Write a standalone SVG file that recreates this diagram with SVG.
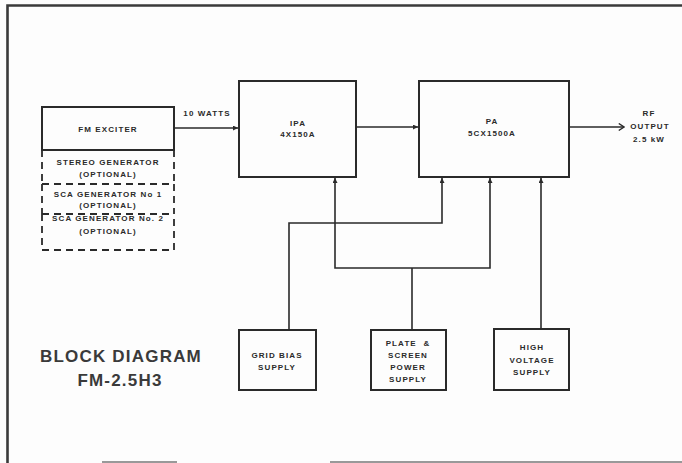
<svg xmlns="http://www.w3.org/2000/svg" width="682" height="463" viewBox="0 0 682 463">
<style>
.box{fill:none;stroke:#2a2a2a;stroke-width:2}
.dash{fill:none;stroke:#2a2a2a;stroke-width:1.8;stroke-dasharray:7,5}
.ln{fill:none;stroke:#2a2a2a;stroke-width:1.6}
.t{font-family:"Liberation Sans",Arial,sans-serif;font-weight:bold;font-size:8px;fill:#2a2a2a;text-anchor:middle;letter-spacing:1.1px}
.big{font-family:"Liberation Sans",Arial,sans-serif;font-weight:bold;font-size:17px;fill:#3a3a3a;text-anchor:middle;letter-spacing:1.2px}
</style>
<defs>
<marker id="ah" viewBox="0 0 8 8" refX="8" refY="4" markerWidth="5" markerHeight="5" orient="auto" markerUnits="userSpaceOnUse">
<path d="M0,0 L8,4 L0,8 Z" fill="#2a2a2a"/>
</marker>
<marker id="oh" viewBox="0 0 8 10" refX="7" refY="5" markerWidth="7" markerHeight="9" orient="auto" markerUnits="userSpaceOnUse">
<path d="M1,1 L7,5 L1,9" fill="none" stroke="#2a2a2a" stroke-width="1.6"/>
</marker>
</defs>
<rect width="682" height="463" fill="#fdfdfd"/>
<g id="frame">
<path d="M7.5,463 V5.5 H682" fill="none" stroke="#3a3a3a" stroke-width="2.6"/>
<line x1="102" y1="462" x2="177" y2="462" stroke="#777" stroke-width="1.5"/>
<line x1="330" y1="462" x2="682" y2="462" stroke="#777" stroke-width="1.5"/>
</g>
<g id="fm-exciter">
<rect class="box" x="42" y="107" width="132" height="43"/>
<text class="t" x="108" y="132">FM EXCITER</text>
</g>
<g id="stereo-generator">
<path class="dash" d="M42,150 V184 M174,150 V184"/>
<text class="t" x="108" y="165">STEREO GENERATOR</text>
<text class="t" x="108" y="177">(OPTIONAL)</text>
</g>
<g id="sca-generator-1">
<path class="dash" d="M42,184 H174 M42,184 V214 M174,184 V214"/>
<text class="t" x="108" y="197">SCA GENERATOR No  1</text>
<text class="t" x="108" y="208">(OPTIONAL)</text>
</g>
<g id="sca-generator-2">
<path class="dash" d="M42,214 H174 M42,214 V250 H174 V214"/>
<text class="t" x="108" y="221">SCA GENERATOR No. 2</text>
<text class="t" x="108" y="234">(OPTIONAL)</text>
</g>
<g id="ipa">
<rect class="box" x="239" y="81" width="117" height="96"/>
<text class="t" x="298" y="126">IPA</text>
<text class="t" x="298" y="137">4X150A</text>
</g>
<g id="pa">
<rect class="box" x="419" y="81" width="150" height="96"/>
<text class="t" x="492" y="124">PA</text>
<text class="t" x="492" y="136">5CX1500A</text>
</g>
<g id="rf-output">
<text class="t" x="649" y="116">RF</text>
<text class="t" x="650" y="129">OUTPUT</text>
<text class="t" x="649" y="142">2.5 kW</text>
</g>
<g id="grid-bias-supply">
<rect class="box" x="239" y="330" width="77" height="60"/>
<text class="t" x="277" y="358">GRID BIAS</text>
<text class="t" x="277" y="370">SUPPLY</text>
</g>
<g id="plate-screen-supply">
<rect class="box" x="371" y="330" width="75" height="60"/>
<text class="t" x="408" y="346" xml:space="preserve">PLATE  &amp;</text>
<text class="t" x="408" y="358">SCREEN</text>
<text class="t" x="408" y="370">POWER</text>
<text class="t" x="408" y="382">SUPPLY</text>
</g>
<g id="high-voltage-supply">
<rect class="box" x="494" y="329" width="75" height="61"/>
<text class="t" x="532" y="350">HIGH</text>
<text class="t" x="532" y="363">VOLTAGE</text>
<text class="t" x="532" y="375">SUPPLY</text>
</g>
<g id="title">
<text class="big" x="121" y="362">BLOCK DIAGRAM</text>
<text class="big" x="120" y="386">FM-2.5H3</text>
</g>
<g id="connectors">
<line class="ln" x1="174" y1="128" x2="238" y2="128" marker-end="url(#ah)"/>
<text class="t" x="207" y="116">10 WATTS</text>
<line class="ln" x1="356" y1="127" x2="418" y2="127" marker-end="url(#ah)"/>
<line class="ln" x1="569" y1="127" x2="624" y2="127" marker-end="url(#oh)"/>
<polyline class="ln" points="289,330 289,223 442,223 442,178" marker-end="url(#ah)"/>
<line class="ln" x1="412" y1="330" x2="412" y2="268"/>
<polyline class="ln" points="412,268 335,268 335,178" marker-end="url(#ah)"/>
<polyline class="ln" points="412,268 490,268 490,178" marker-end="url(#ah)"/>
<line class="ln" x1="541" y1="329" x2="541" y2="178" marker-end="url(#ah)"/>
</g>
</svg>
